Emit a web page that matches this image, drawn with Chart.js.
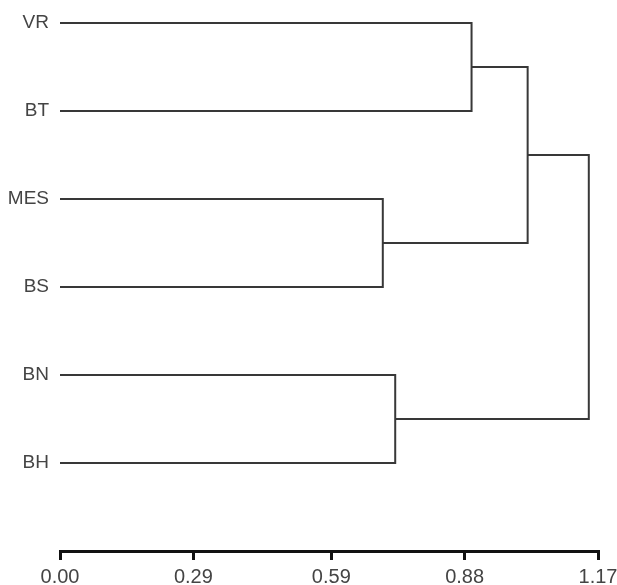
<!DOCTYPE html>
<html>
<head>
<meta charset="utf-8">
<script src="https://cdn.jsdelivr.net/npm/chart.js@4/dist/chart.umd.min.js"></script>
<style>
  html, body { margin: 0; padding: 0; background: #fff; }
  #wrap { width: 617px; height: 585px; }
</style>
</head>
<body>
<div id="wrap"><canvas id="dendro"></canvas></div>
<script>
// leaves from top to bottom
const leafLabels = ['VR', 'BT', 'MES', 'BS', 'BN', 'BH'];
// merges: node ids 0-5 are leaves, merge k makes node 6+k
const mergeLeft = [2, 4, 0, 8, 9];
const mergeRight = [3, 5, 1, 6, 7];
const mergeHeight = [0.702, 0.729, 0.895, 1.017, 1.150];
const tickValues = [0.00, 0.29, 0.59, 0.88, 1.17];

// height and row of each node
const nodeH = leafLabels.map(() => 0);
const nodeY = leafLabels.map((l, i) => i + 1);
mergeHeight.forEach((h, k) => {
    nodeH.push(h);
    nodeY.push((nodeY[mergeLeft[k]] + nodeY[mergeRight[k]]) / 2);
});

// one bracket per merge
const datasets = mergeHeight.map((h, k) => {
    const a = mergeLeft[k], b = mergeRight[k];
    return {
        data: [
            { x: nodeH[a], y: nodeY[a] },
            { x: h, y: nodeY[a] },
            { x: h, y: nodeY[b] },
            { x: nodeH[b], y: nodeY[b] }
        ],
        showLine: true,
        borderColor: '#383838',
        borderWidth: 2,
        borderJoinStyle: 'miter',
        pointRadius: 0,
        pointHoverRadius: 0,
        clip: false
    };
});

const ctx = document.getElementById('dendro').getContext('2d');
new Chart(ctx, {
    type: 'scatter',
    data: { datasets: datasets },
    options: {
        responsive: true,
        maintainAspectRatio: false,
        animation: false,
        layout: { padding: { top: 23, right: 19, left: 0, bottom: 0 } },
        plugins: { legend: { display: false }, tooltip: { enabled: false } },
        scales: {
            x: {
                type: 'linear',
                min: 0,
                max: 1.17,
                afterBuildTicks: (scale) => { scale.ticks = tickValues.map(v => ({ value: v })); },
                afterFit: (scale) => {
                    scale.height = 34;
                    scale.paddingLeft = 0;
                    scale.paddingRight = 0;
                },
                border: { display: true, color: '#111', width: 3 },
                grid: { display: true, drawOnChartArea: false, drawTicks: true, tickLength: 9, color: '#111', lineWidth: 3 },
                ticks: {
                    autoSkip: false,
                    maxRotation: 0,
                    padding: 5,
                    color: '#444',
                    font: { family: 'Liberation Sans, Arial, sans-serif', size: 20 },
                    callback: (v) => Number(v).toFixed(2)
                }
            },
            y: {
                type: 'linear',
                reverse: true,
                min: 1,
                max: 7,
                afterBuildTicks: (scale) => { scale.ticks = leafLabels.map((l, i) => ({ value: i + 1 })); },
                afterFit: (scale) => {
                    scale.width = 60;
                    scale.paddingTop = 0;
                    scale.paddingBottom = 0;
                },
                border: { display: false },
                grid: { display: false, drawTicks: false },
                ticks: {
                    autoSkip: false,
                    padding: 11,
                    color: '#444',
                    font: { family: 'Liberation Sans, Arial, sans-serif', size: 19 },
                    callback: (v) => leafLabels[v - 1]
                }
            }
        }
    }
});
</script>
</body>
</html>
